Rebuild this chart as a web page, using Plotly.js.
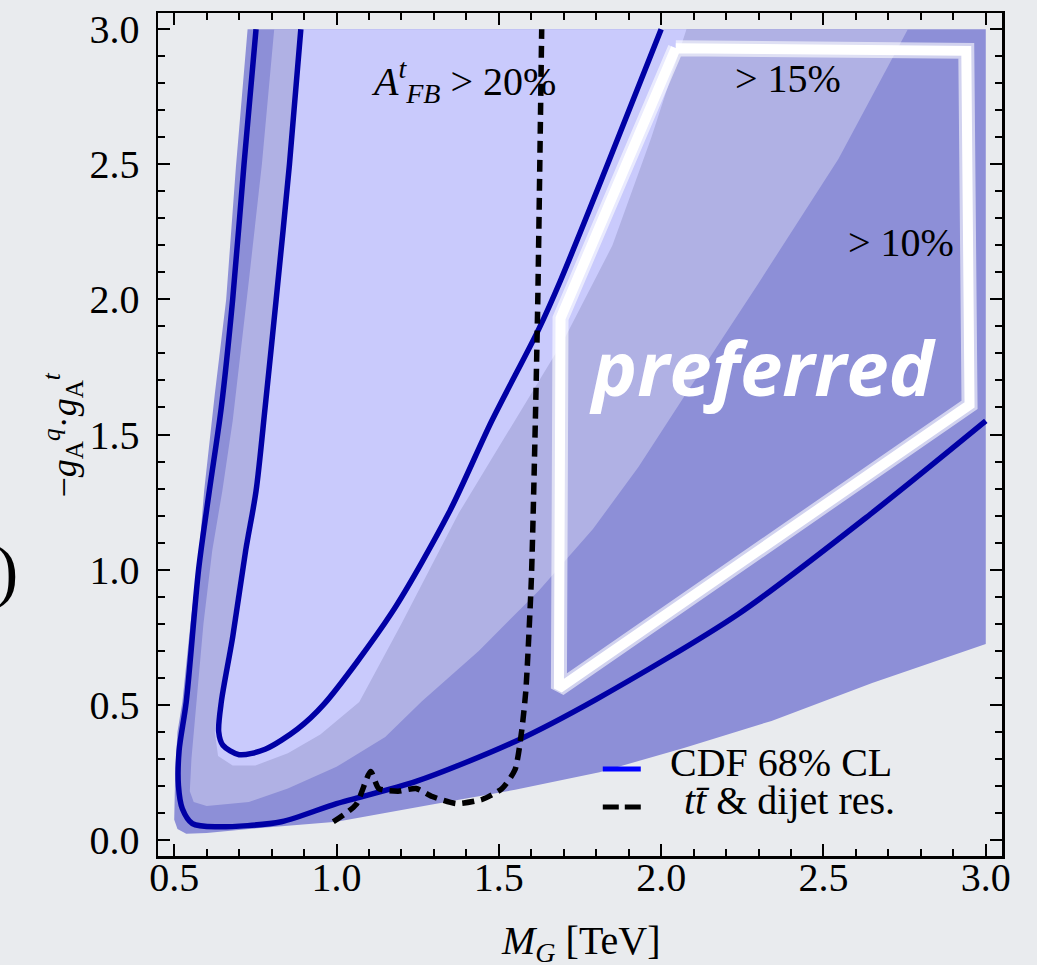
<!DOCTYPE html>
<html>
<head>
<meta charset="utf-8">
<script src="https://cdn.plot.ly/plotly-3.0.1.min.js"></script>
<style>html,body{margin:0;padding:0;background:#e9ebee;}#plot{width:1037px;height:965px;}</style>
</head>
<body>
<div id="plot"></div>
<script>
// A_FB > 10% region
const reg10X = [0.5,0.503,0.51,0.525,0.55,0.577,0.592,0.625,0.66,0.69,0.726,3.0,3.0,2.65,2.34,2.07,1.81,1.55,1.29,1.0,0.73,0.6,0.537,0.51,0.5];
const reg10Y = [0.074,0.25,0.4,0.51,0.8,1.07,1.29,1.65,2.0,2.49,3.0,3.0,0.725,0.58,0.44,0.34,0.25,0.185,0.13,0.067,0.04,0.025,0.022,0.04,0.074];
// A_FB > 15% region
const reg15X = [0.808,0.77,0.73,0.68,0.648,0.617,0.59,0.568,0.553,0.548,0.56,0.6,0.73,0.85,1.0,1.15,1.263,1.438,1.623,1.79,1.93,2.06,2.17,2.3,2.546,2.76,0.808];
const reg15Y = [3.0,2.5,2.07,1.55,1.29,1.07,0.8,0.51,0.3,0.18,0.14,0.125,0.14,0.19,0.27,0.38,0.513,0.699,0.922,1.15,1.38,1.62,1.82,2.06,2.52,3.0,3.0];
// A_FB > 20% region
const reg20X = [0.885,0.85,0.808,0.775,0.745,0.712,0.672,0.637,0.625,0.635,0.68,0.75,0.85,0.95,1.07,1.2,1.377,1.55,1.7,1.85,1.97,2.078,0.885];
const reg20Y = [3.0,2.5,2.0,1.6,1.29,1.07,0.75,0.51,0.4,0.31,0.275,0.275,0.32,0.39,0.51,0.8,1.21,1.55,1.85,2.2,2.6,3.0,3.0];
// CDF 68% CL contours
const cdfOuterX = [0.752,0.715,0.68,0.645,0.608,0.575,0.537,0.515,0.513,0.525,0.556,0.63,0.83,1.0,1.245,1.55,1.8,2.238,2.65,3.0];
const cdfOuterY = [3.0,2.5,2.0,1.6,1.29,1.0,0.51,0.33,0.2,0.115,0.06,0.048,0.067,0.134,0.216,0.364,0.52,0.836,1.21,1.55];
const cdfInnerX = [0.89,0.855,0.814,0.78,0.752,0.72,0.68,0.645,0.637,0.65,0.70,0.78,0.88,0.96,1.17,1.346,1.478,1.623,1.69,1.835,2.0];
const cdfInnerY = [3.0,2.5,2.0,1.6,1.29,1.07,0.75,0.51,0.40,0.35,0.315,0.335,0.41,0.50,0.84,1.21,1.55,1.89,2.07,2.5,3.0];
// ttbar & dijet resonance bound
const resX = [0.99,1.06,1.105,1.13,1.19,1.245,1.295,1.37,1.45,1.51,1.55,1.57,1.583,1.60,1.613,1.62,1.632];
const resY = [0.067,0.13,0.253,0.19,0.18,0.19,0.16,0.134,0.15,0.19,0.26,0.40,0.55,0.96,1.58,2.0,3.0];
// preferred region outline
const prefX = [2.045,2.94,2.95,1.685,1.69,2.045];
const prefY = [2.93,2.92,1.61,0.56,1.93,2.93];
// axis ticks
const xTicks = [0.5,1.0,1.5,2.0,2.5,3.0];
const xTickText = ["0.5","1.0","1.5","2.0","2.5","3.0"];
const yTicks = [0.0,0.5,1.0,1.5,2.0,2.5,3.0];
const yTickText = ["0.0","0.5","1.0","1.5","2.0","2.5","3.0"];

const serif = "Liberation Serif, Times New Roman, serif";
const cDark = "rgb(141,143,215)", cMed = "rgb(176,177,228)", cLight = "rgb(201,202,252)";
const navy = "rgb(0,0,165)";

const traces = [
  {x: reg10X, y: reg10Y, type:"scatter", mode:"lines", fill:"toself", fillcolor:cDark, line:{width:0}, hoverinfo:"skip"},
  {x: reg15X, y: reg15Y, type:"scatter", mode:"lines", fill:"toself", fillcolor:cMed, line:{width:0}, hoverinfo:"skip"},
  {x: reg20X, y: reg20Y, type:"scatter", mode:"lines", fill:"toself", fillcolor:cLight, line:{width:0}, hoverinfo:"skip"},
  {x: cdfOuterX, y: cdfOuterY, type:"scatter", mode:"lines", line:{color:navy, width:5.5, shape:"spline", smoothing:0.8}},
  {x: cdfInnerX, y: cdfInnerY, type:"scatter", mode:"lines", line:{color:navy, width:5.5, shape:"spline", smoothing:0.8}},
  {x: resX, y: resY, type:"scatter", mode:"lines", line:{color:"black", width:5.5, dash:"12px,7px", shape:"spline", smoothing:0.6}},
  {x: prefX, y: prefY, type:"scatter", mode:"lines", line:{color:"rgba(255,255,255,0.6)", width:16}},
  {x: prefX, y: prefY, type:"scatter", mode:"lines", line:{color:"white", width:10}}
];

const axisCommon = {
  showgrid:false, zeroline:false, showline:true, linecolor:"black", linewidth:2.5, mirror:"allticks",
  ticks:"inside", ticklen:12, tickwidth:2, tickcolor:"black",
  tickfont:{family:serif, size:40, color:"black"},
  minor:{ticks:"inside", ticklen:7, tickwidth:2, tickcolor:"black", dtick:0.1, showgrid:false}
};

const layout = {
  width:1037, height:965,
  margin:{l:158, r:35, t:13, b:109},
  paper_bgcolor:"#e9ebee", plot_bgcolor:"#e9ebee",
  showlegend:false,
  xaxis: Object.assign({}, axisCommon, {range:[0.45,3.05], tickvals:xTicks, ticktext:xTickText, ticklabelstandoff:-16}),
  yaxis: Object.assign({}, axisCommon, {range:[-0.06,3.06], tickvals:yTicks, ticktext:yTickText, ticklabelstandoff:8}),
  shapes: [
    {type:"line", xref:"paper", yref:"paper", x0:0.527, x1:0.572, y0:0.1032, y1:0.1032, line:{color:"#0000ff", width:5}},
    {type:"line", xref:"paper", yref:"paper", x0:0.527, x1:0.572, y0:0.0581, y1:0.0581, line:{color:"black", width:5, dash:"16px,6px"}}
  ],
  annotations: [
    {xref:"x", yref:"y", x:1.392, y:2.807, xanchor:"center", yanchor:"middle", text:"<i>A</i><sup><i>t</i></sup><sub><i>FB</i></sub> > 20%", showarrow:false, font:{family:serif, size:40, color:"black"}},
    {xref:"x", yref:"y", x:2.392, y:2.818, xanchor:"center", yanchor:"middle", text:"> 15%", showarrow:false, font:{family:serif, size:40, color:"black"}},
    {xref:"x", yref:"y", x:2.74, y:2.212, xanchor:"center", yanchor:"middle", text:"> 10%", showarrow:false, font:{family:serif, size:40, color:"black"}},
    {xref:"x", yref:"y", x:2.315, y:1.75, xanchor:"center", yanchor:"middle", text:"<b><i>preferred</i></b>", showarrow:false, font:{family:"Open Sans, sans-serif", size:76, color:"white"}},
    {xref:"paper", yref:"paper", x:0.604, y:0.1115, xanchor:"left", yanchor:"middle", text:"CDF 68% CL", showarrow:false, font:{family:serif, size:40, color:"black"}},
    {xref:"paper", yref:"paper", x:0.621, y:0.0664, xanchor:"left", yanchor:"middle", text:"<i>tt\u0304</i> & dijet res.", showarrow:false, font:{family:serif, size:40, color:"black"}},
    {xref:"paper", yref:"paper", x:0.5, y:-0.103, xanchor:"center", yanchor:"middle", text:"<i>M</i><sub><i>G</i></sub> [TeV]", showarrow:false, font:{family:serif, size:40, color:"black"}},
    {xref:"paper", yref:"paper", x:-0.1126, y:0.5, xanchor:"center", yanchor:"middle", textangle:-90, text:"\u2212<i>g</i><sub>A</sub><sup><i>q</i></sup>\u00b7<i>g</i><sub>A</sub><sup><i>t</i></sup>", showarrow:false, font:{family:serif, size:36, color:"black"}},
    {xref:"paper", yref:"paper", x:-0.179, y:0.339, xanchor:"center", yanchor:"middle", text:")", showarrow:false, font:{family:serif, size:70, color:"black"}}
  ]
};

Plotly.newPlot("plot", traces, layout, {staticPlot:true, displayModeBar:false});
</script>
</body>
</html>
